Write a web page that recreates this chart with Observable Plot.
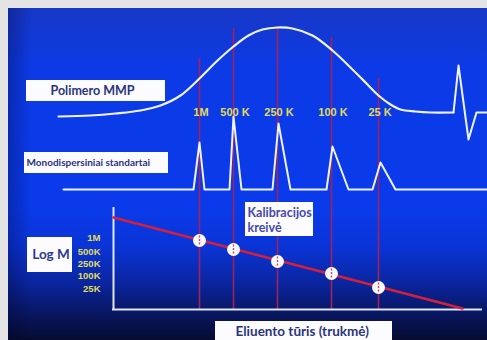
<!DOCTYPE html>
<html><head><meta charset="utf-8">
<script src="https://cdn.jsdelivr.net/npm/d3@7"></script>
<script src="https://cdn.jsdelivr.net/npm/@observablehq/plot@0.6"></script>
<style>
html,body{margin:0;padding:0;background:#e4e4e4;}
#wrap{position:relative;width:487px;height:340px;overflow:hidden;background:#e4e4e4;}
#bg{position:absolute;left:8px;top:8px;right:0;bottom:0;
 background:
  linear-gradient(to right, rgba(0,0,40,0.28) 0%, rgba(0,0,40,0) 5%),
  linear-gradient(to bottom, #1838c6 0%, #0c3ae6 18%, #0a3aea 60%, #0a34d6 72%, #0a259e 83%, #08155a 93%, #060c30 100%);}
#chart{position:absolute;left:0;top:0;}
</style></head><body>
<div id="wrap"><div id="bg"></div><div id="chart"></div></div>
<script>
// ---- data (elution volume in arbitrary units, signals in arbitrary units) ----
const standardLabels = ["1M", "500 K", "250 K", "100 K", "25 K"];
const logMTickLabels = ["1M", "500K", "250K", "100K", "25K"];
const standardVolume = [199, 233, 277, 331, 378];
const standardMarkerTop = [58, 28, 26, 37, 78];
const calibrationLevel = [240, 249, 261, 273, 287];
const logMLabelLevel = [237, 251, 263, 275, 288];

// polymer MMP (molecular mass distribution) trace
const mmpVolume = [58, 90, 115, 140, 160, 180, 199, 216, 233, 248, 262, 277, 292, 312, 332, 353, 367, 378, 390, 400, 415, 430, 453];
const mmpSignal = [0, 1, 3, 6, 11, 21, 38, 55, 70, 81, 87, 89, 88, 81, 66, 46, 32, 21, 12, 7, 5, 4, 4];
// solvent / system peak
const spikeVolume = [453, 458, 468, 476, 487];
const spikeSignal = [4, 51, -23, 4, 4];

// monodisperse standards trace
const stdVolume = [63, 193, 199, 204, 229, 233, 241, 272, 278, 290, 326, 332, 348, 372, 380, 395, 487];
const stdSignal = [0, 0, 47, 0, 0, 73, 0, 0, 66, 0, 0, 43, 0, 0, 27, 0, 0];

// calibration line (elution volume vs level)
const calVolume = [113, 462];
const calLevel = [217, 308];

// annotation boxes
const boxText = ["Polimero MMP", "Monodispersiniai standartai", "Log M", "Kalibracijos\nkreivė", "Eliuento tūris (trukmė)"];
const boxX1 = [26, 24, 27, 245, 215];
const boxX2 = [165, 168, 72, 313, 392];
const boxY1 = [80, 152, 237, 202, 321];
const boxY2 = [101, 173, 272, 236, 346];

// ---- layout ----
const W = 487, H = 340;
const MMP_BASE = 116, STD_BASE = 189, AXIS_Y = 309, AXIS_X = 113;

const mmp = mmpVolume.map((v, i) => ({v, y: MMP_BASE - mmpSignal[i]}));
const spike = spikeVolume.map((v, i) => ({v, y: MMP_BASE - spikeSignal[i]}));
const std = stdVolume.map((v, i) => ({v, y: STD_BASE - stdSignal[i]}));
const cal = calVolume.map((v, i) => ({v, y: calLevel[i]}));
const stds = standardVolume.map((v, i) => ({v, top: standardMarkerTop[i], lvl: calibrationLevel[i], lab: standardLabels[i], tick: logMTickLabels[i], tickY: logMLabelLevel[i]}));
const boxes = boxText.map((t, i) => ({t, x1: boxX1[i], x2: boxX2[i], y1: boxY1[i], y2: boxY2[i]}));

const navy = "#2a3480";
const yellow = "#e0dd5a";
const lineWhite = "#eef2ff";

const chart = Plot.plot({
  width: W, height: H, margin: 0,
  x: {domain: [0, W], range: [0, W], axis: null},
  y: {domain: [0, H], range: [0, H], axis: null},
  style: {background: "none", overflow: "visible"},
  marks: [
    Plot.ruleX(stds, {x: "v", y1: "top", y2: AXIS_Y, stroke: "#a0245c", strokeWidth: 1.6}),
    Plot.line(mmp, {x: "v", y: "y", stroke: lineWhite, strokeWidth: 2.2, curve: "catmull-rom"}),
    Plot.line(spike, {x: "v", y: "y", stroke: lineWhite, strokeWidth: 2}),
    Plot.line(std, {x: "v", y: "y", stroke: lineWhite, strokeWidth: 2}),
    Plot.ruleX([AXIS_X], {y1: 207, y2: AXIS_Y + 1, stroke: "#dfe6ff", strokeWidth: 2}),
    Plot.ruleY([AXIS_Y], {x1: AXIS_X - 1, x2: 482, stroke: "#dfe6ff", strokeWidth: 2}),
    Plot.line(cal, {x: "v", y: "y", stroke: "#d4203c", strokeWidth: 2.6}),
    Plot.dot(stds, {x: "v", y: "lvl", r: 6.5, fill: "#fbfbff"}),
    Plot.ruleX(stds, {x: "v", y1: d => d.lvl - 4.5, y2: d => d.lvl + 4.5, stroke: "#e0404e", strokeWidth: 1.4, strokeDasharray: "2,1.5"}),
    Plot.text(stds, {x: d => d.v + 1.5, y: 112, text: "lab", fill: yellow, fontSize: 11, fontWeight: "bold", fontFamily: "Liberation Sans, Arial, sans-serif", letterSpacing: "-0.3px"}),
    Plot.text(stds, {x: 100, y: "tickY", text: "tick", textAnchor: "end", fill: yellow, fontSize: 9.5, fontWeight: "bold", fontFamily: "Liberation Sans, Arial, sans-serif", letterSpacing: "-0.4px"}),
    Plot.rect(boxes, {x1: "x1", x2: "x2", y1: "y1", y2: "y2", fill: "#fcfcff"}),
    Plot.text([boxes[0]], {x: 50, y: 90.5, text: "t", textAnchor: "start", fill: navy, fontSize: 12.5, fontWeight: "bold", fontFamily: "Lato"}),
    Plot.text([boxes[1]], {x: 26, y: 162.5, text: "t", textAnchor: "start", fill: navy, fontSize: 10, fontWeight: "bold", fontFamily: "Lato"}),
    Plot.text([boxes[2]], {x: 50.5, y: 254, text: "t", fill: "#2d3a8c", fontSize: 13.5, fontWeight: "bold", fontFamily: "Lato"}),
    Plot.text([boxes[3]], {x: 247, y: 219, text: "t", textAnchor: "start", fill: "#4548b4", fontSize: 12.5, fontWeight: "bold", fontFamily: "Lato", lineHeight: 1.2}),
    Plot.text([boxes[4]], {x: 235, y: 331, text: "t", textAnchor: "start", fill: navy, fontSize: 13.5, fontWeight: "bold", fontFamily: "Lato"})
  ]
});
document.getElementById("chart").appendChild(chart);
</script>
</body></html>
